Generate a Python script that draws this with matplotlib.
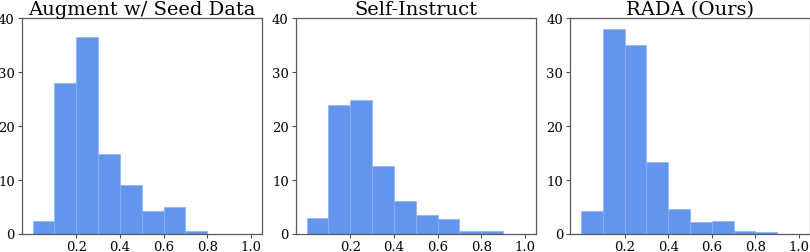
import numpy as np
import matplotlib
matplotlib.use('Agg')
from matplotlib import pyplot as plt

plt.rcParams['font.family'] = 'DejaVu Serif'

# bin left edges (width 0.1) and bar heights
bin_left = [0.0, 0.1, 0.2, 0.3, 0.4, 0.5, 0.6, 0.7, 0.8, 0.9]
titles = ['Augment w/ Seed Data', 'Self-Instruct', 'RADA (Ours)']
augment_seed = [2.35, 27.9, 36.4, 14.75, 9.0, 4.25, 4.9, 0.5, 0.0, 0.0]
self_instruct = [2.9, 23.9, 24.8, 12.45, 6.1, 3.45, 2.7, 0.5, 0.5, 0.0]
rada_ours = [4.2, 37.9, 35.0, 13.3, 4.55, 2.1, 2.35, 0.5, 0.3, 0.0]
xtick_vals = [0.2, 0.4, 0.6, 0.8, 1.0]
ytick_vals = [0, 10, 20, 30, 40]

series = [augment_seed, self_instruct, rada_ours]
lefts = [21.7, 295.7, 570.0]

fig = plt.figure(figsize=(8.1, 2.53), dpi=100)
for title, vals, lx in zip(titles, series, lefts):
    ax = fig.add_axes([lx / 810, 18.5 / 253, 240 / 810, 215.5 / 253])
    ax.bar(bin_left, vals, width=0.1, align='edge', color='#6495ED',
           edgecolor='#8db2f3', linewidth=0.5)
    ax.set_xlim(-0.05, 1.05)
    ax.set_ylim(0, 40)
    ax.set_xticks(xtick_vals)
    ax.set_xticklabels(['%.1f' % v for v in xtick_vals])
    ax.set_yticks(ytick_vals)
    ax.tick_params(labelsize=9.5, length=3, width=0.8, color='0.3', pad=2)
    for sp in ax.spines.values():
        sp.set_color('0.35')
        sp.set_linewidth(0.9)
    ax.set_title(title, fontsize=14, pad=3)

plt.savefig('out.png', dpi=100)
